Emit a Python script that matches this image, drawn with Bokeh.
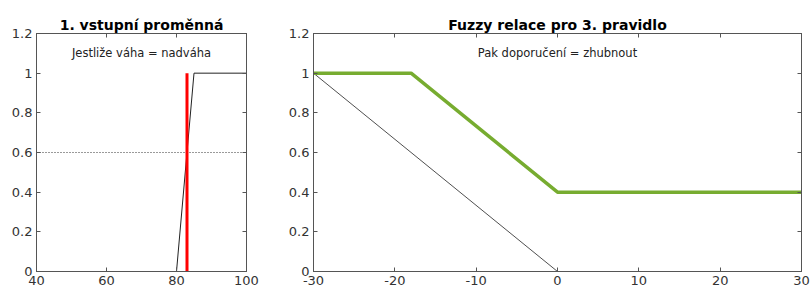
from bokeh.plotting import figure
from bokeh.layouts import row
from bokeh.models import LinearAxis, Range1d, FixedTicker, Label, CustomJSTickFormatter
from bokeh.embed import file_html
from bokeh.resources import INLINE

# ---- data ----
# input variable: membership function "nadváha" (overweight)
x_in = [40, 80, 85, 100]
mu_in = [0, 0, 1, 1]
crisp_x = [83, 83]
crisp_y = [0, 1]
level_x = [40, 100]
level_y = [0.6, 0.6]

# output: "zhubnout" membership and fuzzy relation for rule 3
x_out = [-30, 0, 30]
mu_out = [1, 0, 0]
x_rel = [-30, -18, 0, 30]
mu_rel = [1, 1, 0.4, 0.4]

x_ticks_in = [40, 60, 80, 100]
x_tick_labels_in = ["40", "60", "80", "100"]
x_ticks_out = [-30, -20, -10, 0, 10, 20, 30]
x_tick_labels_out = ["-30", "-20", "-10", "0", "10", "20", "30"]
y_ticks = [0, 0.2, 0.4, 0.6, 0.8, 1, 1.2]
y_tick_labels = ["0", "0.2", "0.4", "0.6", "0.8", "1", "1.2"]

title_in = "1. vstupní proměnná"
title_out = "Fuzzy relace pro 3. pravidlo"
text_in = "Jestliže váha = nadváha"
text_out = "Pak doporučení = zhubnout"

FONT = "DejaVu Sans"
AX = "#555555"
LBL = "#333333"
GREEN = "#77AC30"


def style_axis(ax, show_labels=True):
    ax.major_tick_in = 4
    ax.major_tick_out = 0
    ax.minor_tick_line_color = None
    ax.axis_line_color = AX
    ax.major_tick_line_color = AX
    ax.axis_line_width = 1
    ax.major_label_text_font = FONT
    ax.major_label_text_color = LBL
    ax.major_label_text_font_size = "13px"
    if show_labels:
        ax.major_label_standoff = 4
    else:
        ax.formatter = CustomJSTickFormatter(code="return ''")
        ax.major_label_standoff = 0


def make_fig(width, xr, xticks, xlabels, title, mbl, mbr):
    p = figure(width=width, height=293, output_backend="svg", toolbar_location=None,
               x_range=Range1d(*xr), y_range=Range1d(0, 1.2),
               min_border_left=mbl, min_border_right=mbr,
               min_border_top=33, min_border_bottom=22,
               x_axis_type=None, y_axis_type=None)
    p.grid.visible = False
    p.outline_line_color = AX
    p.background_fill_color = "white"
    p.border_fill_color = "white"
    p.title.text = title
    p.title.align = "center"
    p.title.text_font = FONT
    p.title.text_font_size = "14px"
    p.title.text_font_style = "bold"
    p.title.text_color = "black"
    p.title.standoff = 2
    xb = LinearAxis(ticker=FixedTicker(ticks=xticks))
    style_axis(xb)
    xb.major_label_overrides = {t: l for t, l in zip(xticks, xlabels)}
    p.add_layout(xb, "below")
    xt = LinearAxis(ticker=FixedTicker(ticks=xticks))
    style_axis(xt, False)
    p.add_layout(xt, "above")
    yl = LinearAxis(ticker=FixedTicker(ticks=y_ticks))
    style_axis(yl)
    yl.major_label_overrides = {t: l for t, l in zip(y_ticks, y_tick_labels)}
    p.add_layout(yl, "left")
    yr = LinearAxis(ticker=FixedTicker(ticks=y_ticks))
    style_axis(yr, False)
    p.add_layout(yr, "right")
    return p


p1 = make_fig(280, (40, 100), x_ticks_in, x_tick_labels_in, title_in, 36, 34)
p1.line(level_x, level_y, line_color="black", line_width=0.8, line_dash="1 2")
p1.line(x_in, mu_in, line_color="#222222", line_width=1)
p1.line(crisp_x, crisp_y, line_color="red", line_width=3)
p1.add_layout(Label(x=70, y=1.1, text=text_in, text_align="center", text_baseline="middle",
                    text_font=FONT, text_font_size="11.5px", text_color="#222222"))

p2 = make_fig(531, (-30, 30), x_ticks_out, x_tick_labels_out, title_out, 33, 10)
p2.line(x_out, mu_out, line_color="#222222", line_width=0.8)
p2.line(x_rel, mu_rel, line_color=GREEN, line_width=3.5)
p2.add_layout(Label(x=0, y=1.1, text=text_out, text_align="center", text_baseline="middle",
                    text_font=FONT, text_font_size="11.5px", text_color="#222222"))

layout = row(p1, p2, spacing=0)
open("out.html", "w").write(file_html(layout, INLINE))
